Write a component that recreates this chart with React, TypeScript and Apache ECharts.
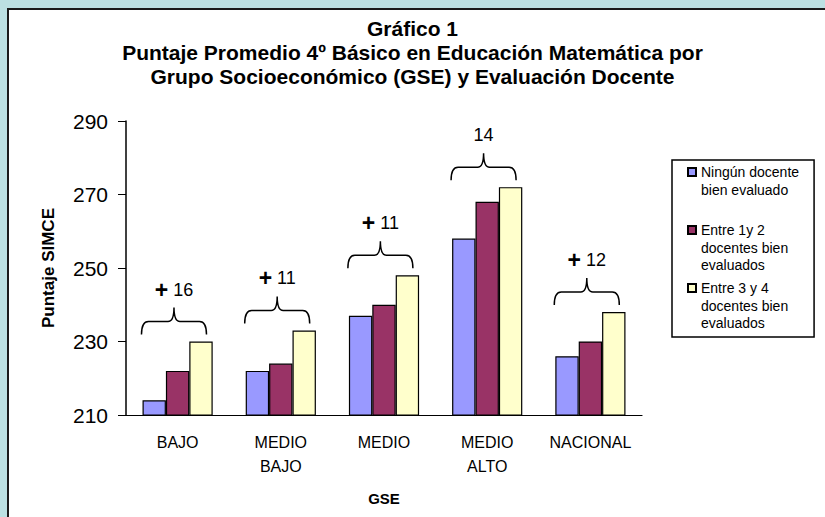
import React, { useEffect, useRef } from "react";
import * as echarts from "echarts";

const categories = ["BAJO", "MEDIO\nBAJO", "MEDIO", "MEDIO\nALTO", "NACIONAL"];
const seriesNames = [
  "Ningún docente bien evaluado",
  "Entre 1y 2 docentes bien evaluados",
  "Entre 3 y 4 docentes bien evaluados",
];
const legendLabels = [
  "Ningún docente\nbien evaluado\n",
  "Entre 1y 2\ndocentes bien\nevaluados",
  "Entre 3 y 4\ndocentes bien\nevaluados",
];
const ningun = [214, 222, 237, 258, 226];
const entre12 = [222, 224, 240, 268, 230];
const entre34 = [230, 233, 248, 272, 238];
const gapSigns = ["+", "+", "+", "", "+"];
const gapValues = [16, 11, 11, 14, 12];
const yMin = 210;
const yMax = 290;
const yInterval = 20;

const titleText =
  "Gráfico 1\nPuntaje Promedio 4º Básico en Educación Matemática por\nGrupo Socioeconómico (GSE) y Evaluación Docente";

const FF = '"Liberation Sans", Arial, sans-serif';
const colors = ["#9999FF", "#993366", "#FFFFCC"];

export default function App() {
  const ref = useRef<HTMLDivElement>(null);
  useEffect(() => {
    if (!ref.current) return;
    const chart = echarts.init(ref.current, null, { renderer: "svg" });
    const valueSets = [ningun, entre12, entre34];
    const bars = valueSets.map((vals, i) => ({
      name: seriesNames[i],
      type: "bar",
      data: vals,
      barGap: "0%",
      barCategoryGap: "32%",
      itemStyle: { color: colors[i], borderColor: "#000", borderWidth: 1.2 },
      z: 2,
    }));
    const braceSeries = {
      type: "custom",
      name: "diff",
      silent: true,
      z: 5,
      clip: false,
      encode: { x: 0, y: 1 },
      data: entre34.map((v, i) => [i, v]),
      renderItem: (params: any, api: any) => {
        const idx = api.value(0);
        const top = api.value(1);
        const pt = api.coord([idx, top]);
        const band = api.size([1, 0])[0];
        const w = band * 0.63;
        const cx = pt[0] - band * 0.035;
        const x0 = cx - w / 2;
        const x1 = cx + w / 2;
        const yb = pt[1] - 7;
        const ym = yb - 13;
        const yp = yb - 27;
        const pathData =
          `M${x0} ${yb}Q${x0} ${ym} ${x0 + 7} ${ym}L${cx - 6} ${ym}Q${cx} ${ym} ${cx} ${yp}` +
          `Q${cx} ${ym} ${cx + 6} ${ym}L${x1 - 7} ${ym}Q${x1} ${ym} ${x1} ${yb}`;
        const i = params.dataIndex;
        const txt = gapSigns[i]
          ? `{p|${gapSigns[i]}} {n|${gapValues[i]}}`
          : `{n|${gapValues[i]}}`;
        return {
          type: "group",
          children: [
            {
              type: "path",
              shape: { pathData },
              style: { fill: "none", stroke: "#000", lineWidth: 1.5 },
            },
            {
              type: "text",
              x: cx,
              y: yp - 18,
              style: {
                text: txt,
                align: "center",
                verticalAlign: "middle",
                fill: "#000",
                fontFamily: FF,
                fontSize: 18,
                rich: {
                  p: { fontSize: 23, fontWeight: "bold", fontFamily: FF, fill: "#000" },
                  n: { fontSize: 18, fontFamily: FF, fill: "#000" },
                },
              },
            },
          ],
        };
      },
    };
    const option: any = {
      animation: false,
      backgroundColor: "#BCE0E2",
      textStyle: { fontFamily: FF },
      graphic: [
        {
          type: "rect",
          z: -100,
          silent: true,
          shape: { x: 8, y: 9, width: 840, height: 540 },
          style: { fill: "#fff", stroke: "#1a1a1a", lineWidth: 2 },
        },
      ],
      title: {
        text: titleText,
        left: "center",
        top: 16,
        padding: [0, 0, 0, 9],
        textStyle: {
          fontFamily: FF,
          fontSize: 21,
          fontWeight: "bold",
          lineHeight: 24,
          color: "#000",
        },
      },
      legend: {
        data: seriesNames,
        orient: "vertical",
        left: 672,
        top: 160,
        padding: [2, 15, 4, 15],
        itemGap: 3,
        itemWidth: 8,
        itemHeight: 53,
        icon: "path://M0,0M0,5L8,5L8,13L0,13ZM8,53",
        borderColor: "#000",
        borderWidth: 1.5,
        selectedMode: false,
        formatter: (name: string) => legendLabels[seriesNames.indexOf(name)],
        textStyle: { fontFamily: FF, fontSize: 14, lineHeight: 17.7, color: "#000" },
      },
      grid: { left: 126, right: 183, top: 121, bottom: 102 },
      xAxis: {
        type: "category",
        data: categories,
        name: "GSE",
        nameLocation: "middle",
        nameGap: 76,
        nameTextStyle: { fontFamily: FF, fontSize: 15, fontWeight: "bold", color: "#000" },
        axisLine: { lineStyle: { color: "#000", width: 1.2 } },
        axisTick: { length: 6, lineStyle: { color: "#000" } },
        axisLabel: {
          interval: 0,
          margin: 15,
          fontFamily: FF,
          fontSize: 16,
          lineHeight: 24,
          color: "#000",
        },
      },
      yAxis: {
        type: "value",
        min: yMin,
        max: yMax,
        interval: yInterval,
        name: "Puntaje SIMCE",
        nameLocation: "middle",
        nameGap: 69,
        nameTextStyle: { fontFamily: FF, fontSize: 17, fontWeight: "bold", color: "#000" },
        splitLine: { show: false },
        axisLine: { show: true, lineStyle: { color: "#000", width: 1.5 } },
        axisTick: { show: true, length: 8, lineStyle: { color: "#000" } },
        axisLabel: { margin: 18, fontFamily: FF, fontSize: 21, color: "#000" },
      },
      series: [...bars, braceSeries],
    };
    chart.setOption(option);
    return () => chart.dispose();
  }, []);
  return (
    <div
      ref={ref}
      style={{ position: "absolute", left: 0, top: 0, width: 825, height: 517 }}
    />
  );
}
